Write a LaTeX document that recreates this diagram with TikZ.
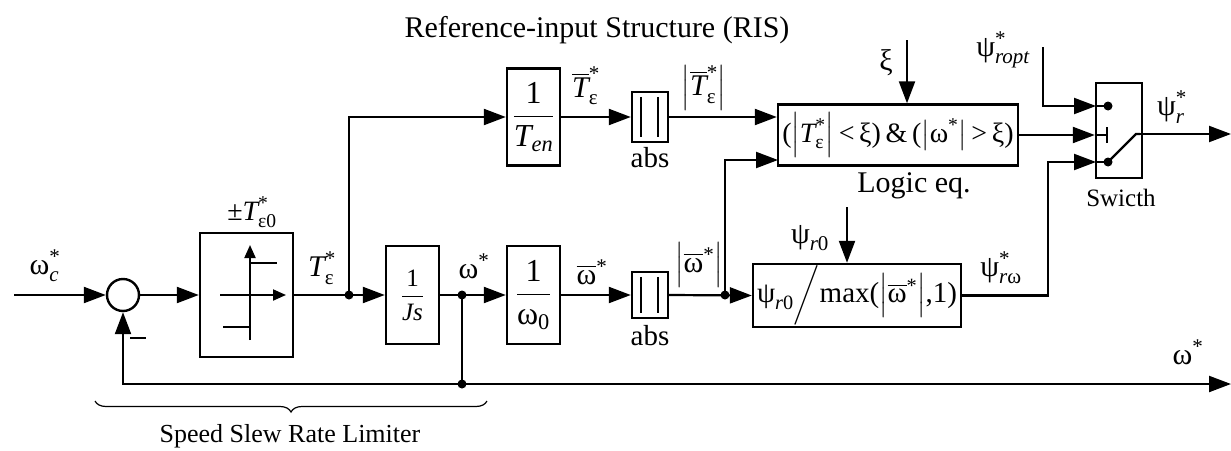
\RequirePackage{fix-cm}
\documentclass[tikz,border=0pt]{standalone}
\usepackage{amsmath}
\usepackage{fontspec}
\setmainfont{Liberation Serif}
\usetikzlibrary{arrows.meta,decorations.pathreplacing,calc}
\newcommand{\tx}[1]{\text{#1}}
\newcommand{\ti}[1]{\text{\itshape #1}}
\newcommand{\st}{\text{*}}
\newcommand{\ab}[1]{{\left|#1\right|}}
\begin{document}
\begin{tikzpicture}[x=1pt,y=-1pt,line width=2.2pt,
  blk/.style={draw,line width=2.4pt,inner sep=0pt,anchor=center},
  arr/.style={-{Triangle[length=22pt,width=16pt]}},
  sarr/.style={-{Triangle[length=13pt,width=11pt]}},
  lbl/.style={font=\fontsize{30}{34}\selectfont,inner sep=0pt},
  dot/.style={circle,fill,inner sep=0pt,minimum size=9pt},
  bar/.style={line width=2.4pt}]
\useasboundingbox (0,0) rectangle (1231,450);

% blocks
\node[blk,circle,minimum size=32pt] (sum) at (123,295) {};
\node[blk,minimum width=93pt,minimum height=124pt] (sat) at (246.5,295) {};
\node[blk,minimum width=53pt,minimum height=98pt,font=\fontsize{25}{29}\selectfont] (js) at (412.5,295) {$\dfrac{\tx{1}}{\ti{Js}}$};
\node[blk,minimum width=53pt,minimum height=98pt,font=\fontsize{32}{36}\selectfont] (w0) at (533.5,295) {$\dfrac{\tx{1}}{\tx{ω}_{\tx{0}}}$};
\node[blk,minimum width=53pt,minimum height=97pt,font=\fontsize{32}{36}\selectfont] (ten) at (533.5,117) {$\dfrac{\tx{1}}{\ti{T}_{\ti{en}}}$};
\node[blk,minimum width=36pt,minimum height=50pt] (absu) at (650,117) {};
\node[blk,minimum width=36pt,minimum height=46pt] (absl) at (650,295) {};
\node[blk,minimum width=240pt,minimum height=61pt,font=\fontsize{28}{32}\selectfont] (logic) at (898,135)
  {$\tx{(}\ab{\ti{T}^{\st}_{\tx{ε}}}\tx{\,<\,ξ)\,\&\,(}\ab{\tx{ω}^{\st}}\tx{\,>\,ξ)}$};
\node[blk,minimum width=208pt,minimum height=63pt,font=\fontsize{29}{33}\selectfont] (psi) at (857,295.5)
  {$\tx{ψ}_{\ti{r}\tx{0}}\Big/\tx{max(}\ab{\overline{\tx{ω}}^{\st}}\tx{,1)}$};
\node[blk,minimum width=46pt,minimum height=95pt] (switch) at (1119,130.5) {};

% saturation symbol
\draw[sarr,line width=2pt] (220,295) -- (286,295);
\draw[sarr,line width=2pt] (250,340) -- (250,245);
\draw[line width=2pt] (250,263) -- (277,263);
\draw[line width=2pt] (223,327) -- (250,327);

% abs bars
\foreach \b in {absu,absl} {
  \draw[bar] ($(\b.north)+(-9,6)$) -- ($(\b.south)+(-9,-6)$);
  \draw[bar] ($(\b.north)+(8,6)$) -- ($(\b.south)+(8,-6)$);
}

% coordinates
\coordinate (in) at (14,295);
\coordinate (j1) at (349,295);
\coordinate (j2) at (462,295);
\coordinate (j3) at (462,384);
\coordinate (j4) at (725,295);
\coordinate (wout) at (1231,384);
\coordinate (lin2) at (778,160);
\coordinate (xi) at (907,40);
\coordinate (pr0) at (847,207);
\coordinate (ropt) at (1043,47);
\coordinate (sw1) at (1096,106);
\coordinate (sw3) at (1096,162);
\coordinate (psicol) at (1048,162);
\coordinate (lev) at (1140,134);
\coordinate (psiout) at (1231,134);

% connectors
\draw[arr] (in) -- (sum.west);
\draw[arr] (sum.east) -- (sat.west);
\draw[arr] (sat.east) -- (js.west);
\draw[arr] (j1) |- (ten.west);
\draw[arr] (ten.east) -- (absu.west);
\draw[arr] (absu.east) -- (absu.east -| logic.west);
\draw[arr] (js.east) -- (w0.west);
\draw (j2) -- (j3);
\draw[arr] (j3) -- (wout);
\draw[arr] (j3) -| (sum.south);
\draw[arr] (w0.east) -- (absl.west);
\draw[arr] (absl.east) -- (psi.west);
\draw[arr] (j4) |- (lin2);
\draw[arr] (xi) -- (xi |- logic.north);
\draw[arr] (pr0) -- (pr0 |- psi.north);
\draw[arr] (ropt) |- (sw1);
\draw[arr] (psi.east) -| (psicol) -- (sw3);
\draw[arr] (logic.east) -- (logic.east -| switch.west);
\draw[arr] (lev) -- (psiout);

\node[dot] at (j1) {};
\node[dot] at (j2) {};
\node[dot] at (j3) {};
\node[dot] at (j4) {};

% switch internals
\draw (sw1) -- (1108,106);
\node[dot] at (1108,106) {};
\draw (sw3) -- (1108,162);
\node[dot] at (1108,162) {};
\draw (1096,135) -- (1107,135);
\draw (1107,127) -- (1107,143);
\draw (1108,162) -- (1136,134) -- (lev);

% minus sign
\draw[line width=2.6pt] (130,338) -- (146,338);

% labels
\node[lbl] (lwc) at (45,266) {$\tx{ω}^{\st}_{\ti{c}}$};
\node[lbl,font=\fontsize{28}{32}\selectfont] (lte0) at (252,212) {$\tx{±}\ti{T}^{\st}_{\tx{ε0}}$};
\node[lbl] (lte) at (322,268) {$\ti{T}^{\st}_{\tx{ε}}$};
\node[lbl] (lw) at (474,266) {$\tx{ω}^{\st}$};
\node[lbl] (ltb) at (586,86) {$\overline{\ti{T}}^{\st}_{\tx{ε}}$};
\node[lbl] (lwb) at (592,272) {$\overline{\tx{ω}}^{\st}$};
\node[lbl] (latb) at (704,88) {$\ab{\overline{\ti{T}}^{\st}_{\tx{ε}}}$};
\node[lbl] (lawb) at (699,265) {$\ab{\overline{\tx{ω}}^{\st}}$};
\node[lbl,font=\fontsize{29}{33}\selectfont] (labsu) at (650,158) {abs};
\node[lbl,font=\fontsize{29}{33}\selectfont] (labsl) at (650,336) {abs};
\node[lbl,font=\fontsize{30}{34}\selectfont] (lxi) at (886,63) {ξ};
\node[lbl,font=\fontsize{30}{34}\selectfont] (llog) at (914,186) {Logic eq.};
\node[lbl] (lpr0) at (810,238) {$\tx{ψ}_{\ti{r}\tx{0}}$};
\node[lbl] (lprw) at (1001,268) {$\tx{ψ}^{\st}_{\ti{r}\tx{ω}}$};
\node[lbl] (lpropt) at (1003,50) {$\tx{ψ}^{\st}_{\ti{ropt}}$};
\node[lbl] (lpr) at (1172,107) {$\tx{ψ}^{\st}_{\ti{r}}$};
\node[lbl,font=\fontsize{25}{29}\selectfont] (lsw) at (1121,198) {Swicth};
\node[lbl] (lwo) at (1188,352) {$\tx{ω}^{\st}$};
\node[lbl,font=\fontsize{30}{34}\selectfont] (ltitle) at (597,30) {Reference-input Structure (RIS)};
\node[lbl,font=\fontsize{26}{30}\selectfont] (lspeed) at (290,436) {Speed Slew Rate Limiter};

% brace
\draw[decorate,decoration={brace,mirror,amplitude=11pt},line width=1.2pt] (95,401) -- (487,401);
\end{tikzpicture}
\end{document}
